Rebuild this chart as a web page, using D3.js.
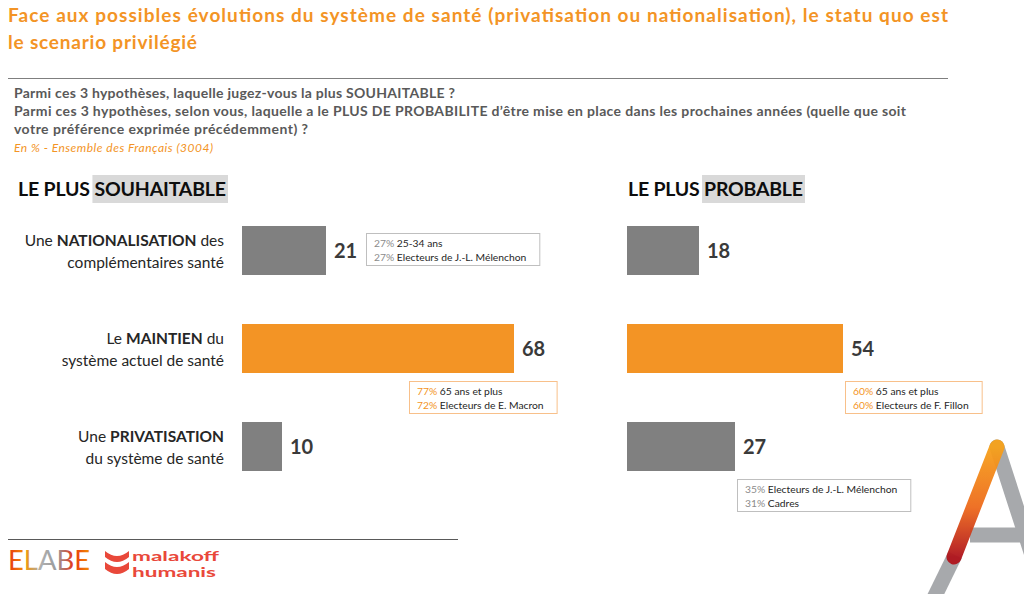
<!DOCTYPE html>
<html><head><meta charset="utf-8">
<script src="https://cdn.jsdelivr.net/npm/d3@7"></script>
<style>
body{margin:0;background:#fff;}
svg{display:block;font-family:Lato,"Open Sans",sans-serif;}
</style></head>
<body><svg id="c" width="1024" height="594"></svg>
<script>
// ---- data ----
const titleLines = ["Face aux possibles évolutions du système de santé (privatisation ou nationalisation), le statu quo est", "le scenario privilégié"];
const questionLines = ["Parmi ces 3 hypothèses, laquelle jugez-vous la plus SOUHAITABLE ?", "Parmi ces 3 hypothèses, selon vous, laquelle a le PLUS DE PROBABILITE d’être mise en place dans les prochaines années (quelle que soit", "votre préférence exprimée précédemment) ?"];
const baseNote = "En % - Ensemble des Français (3004)";
const categories = ["NATIONALISATION", "MAINTIEN", "PRIVATISATION"];
const catPre = ["Une ", "Le ", "Une "];
const catPost = [" des", " du", ""];
const catLine2 = ["complémentaires santé", "système actuel de santé", "du système de santé"];
const souhaitable = [21, 68, 10];
const probable = [18, 54, 27];
const highlight = [false, true, false];
const annotLeft = [[["27%", "25-34 ans"], ["27%", "Electeurs de J.-L. Mélenchon"]], [["77%", "65 ans et plus"], ["72%", "Electeurs de E. Macron"]], null];
const annotRight = [null, [["60%", "65 ans et plus"], ["60%", "Electeurs de F. Fillon"]], [["35%", "Electeurs de J.-L. Mélenchon"], ["31%", "Cadres"]]];

// ---- drawing ----
const ORANGE = "#F39425", GREY = "#808080";
const svg = d3.select("#c");
const fit = (sel, w) => sel.attr("textLength", w).attr("lengthAdjust", "spacing");

// title
const titleW = [940, 189];
svg.selectAll("text.title").data(titleLines).join("text")
  .attr("x", 8).attr("y", (d, i) => 22 + i * 27)
  .attr("fill", ORANGE).attr("font-size", 19).attr("font-weight", "bold")
  .text(d => d).each(function (d, i) { fit(d3.select(this), titleW[i]); });
svg.append("line").attr("x1", 8).attr("x2", 948).attr("y1", 78.5).attr("y2", 78.5)
  .attr("stroke", "#7f7f7f").attr("stroke-width", 1);
const qW = [441, 892, 294];
svg.selectAll("text.q").data(questionLines).join("text")
  .attr("x", 14).attr("y", (d, i) => 98 + i * 18)
  .attr("fill", "#595959").attr("font-size", 14).attr("font-weight", "bold")
  .text(d => d).each(function (d, i) { fit(d3.select(this), qW[i]); });
fit(svg.append("text").attr("x", 14).attr("y", 152).attr("fill", ORANGE)
  .attr("font-size", 12).attr("font-style", "italic").text(baseNote), 199);

const x = d3.scaleLinear().domain([0, 100]).range([0, 400]);
const y = d3.scaleBand().domain(categories).range([226, 471]).paddingInner(0.5).paddingOuter(0);

function heading(x0, plain, hl, endX) {
  const g = svg.append("g");
  const t = g.append("text").attr("x", x0).attr("y", 196).attr("font-size", 19.5)
    .attr("font-weight", "bold").attr("fill", "#0d0d0d").text(plain + " " + hl);
  fit(t, endX - x0);
  const sx = t.node().getStartPositionOfChar(plain.length + 1).x;
  g.insert("rect", "text").attr("x", sx - 2).attr("y", 175).attr("width", endX - sx + 4).attr("height", 28).attr("fill", "#D9D9D9");
}
heading(18, "LE PLUS", "SOUHAITABLE", 226);
heading(628, "LE PLUS", "PROBABLE", 803);

function panel(x0, values, annots, layout) {
  const g = svg.append("g").attr("transform", `translate(${x0},0)`);
  g.selectAll("rect.bar").data(values).join("rect")
    .attr("x", 0).attr("y", (d, i) => y(categories[i]))
    .attr("width", d => x(d)).attr("height", y.bandwidth())
    .attr("fill", (d, i) => highlight[i] ? ORANGE : GREY);
  g.selectAll("text.val").data(values).join("text")
    .attr("x", d => x(d) + 8).attr("y", (d, i) => y(categories[i]) + y.bandwidth() / 2 + 7)
    .attr("font-size", 20).attr("font-weight", "bold").attr("fill", "#3a3a3a")
    .text(d => d);
  annots.forEach((a, i) => {
    if (!a) return;
    const L = layout[i];
    const col = highlight[i] ? ORANGE : "#8c8c8c";
    const bx = x(values[i]) + L.dx, by = L.below ? y(categories[i]) + y.bandwidth() + 8 : y(categories[i]) + 7;
    const ag = g.append("g");
    const rect = ag.append("rect").attr("x", bx + 0.5).attr("y", by + 0.5).attr("height", 32)
      .attr("fill", "#fff").attr("stroke", highlight[i] ? "#F8C08A" : "#BFBFBF").attr("stroke-width", 1);
    let maxW = 0;
    a.forEach((ln, j) => {
      const t = ag.append("text").attr("x", bx + 8).attr("y", by + 13.5 + j * 14.5)
        .attr("font-size", 10.3).attr("fill", "#262626");
      t.append("tspan").attr("fill", col).text(ln[0] + " ");
      t.append("tspan").text(ln[1]);
      maxW = Math.max(maxW, t.node().getComputedTextLength());
    });
    rect.attr("width", maxW + 21);
  });
}
panel(242, souhaitable, annotLeft, [{dx: 40, below: false}, {dx: -105, below: true}, null]);
panel(627, probable, annotRight, [null, {dx: 2, below: true}, {dx: 2, below: true}]);

// category labels
const lab = svg.append("g");
categories.forEach((c, i) => {
  const cy = y(c) + y.bandwidth() / 2;
  const t1 = lab.append("text").attr("x", 224).attr("y", cy - 5).attr("text-anchor", "end")
    .attr("font-size", 15.5).attr("fill", "#262626");
  t1.append("tspan").text(catPre[i]);
  t1.append("tspan").attr("font-weight", "bold").text(c);
  t1.append("tspan").text(catPost[i]);
  lab.append("text").attr("x", 224).attr("y", cy + 17).attr("text-anchor", "end")
    .attr("font-size", 15.5).attr("fill", "#262626").text(catLine2[i]);
});

// footer
svg.append("line").attr("x1", 8).attr("x2", 458).attr("y1", 539.5).attr("y2", 539.5)
  .attr("stroke", "#595959").attr("stroke-width", 1);
const defs = svg.append("defs");
const ge = defs.append("linearGradient").attr("id", "elabe").attr("x1", 0).attr("x2", 1);
[["0%", "#E63312"], ["20%", "#F39200"], ["40%", "#B0B0B0"], ["60%", "#9a9a9a"], ["80%", "#E63312"], ["100%", "#F39200"]]
  .forEach(s => ge.append("stop").attr("offset", s[0]).attr("stop-color", s[1]));
svg.append("text").attr("x", 8).attr("y", 570).attr("font-size", 26).attr("font-weight", 400)
  .attr("font-family", "Lato").attr("textLength", 82).attr("lengthAdjust", "spacingAndGlyphs")
  .attr("fill", "url(#elabe)").text("ELABE");
const MH = "#E9483A";
svg.append("path").attr("d", "M105,551 Q117,561 129,551 L129,557 Q117,567 105,557 Z").attr("fill", MH);
svg.append("path").attr("d", "M105,562 Q117,572 129,562 L129,569 Q117,579 105,569 Z").attr("fill", MH);
svg.append("text").attr("x", 132).attr("y", 561).attr("font-size", 14).attr("font-weight", "bold")
  .attr("fill", MH).attr("textLength", 87).attr("lengthAdjust", "spacingAndGlyphs").text("malakoff");
svg.append("text").attr("x", 132).attr("y", 577).attr("font-size", 14).attr("font-weight", "bold")
  .attr("fill", MH).attr("textLength", 84).attr("lengthAdjust", "spacingAndGlyphs").text("humanis");

// corner A
const ga = defs.append("linearGradient").attr("id", "ag").attr("x1", 0).attr("y1", 0).attr("x2", 0).attr("y2", 1);
[["0%", "#F7A21B"], ["55%", "#EE6A1C"], ["100%", "#B0141C"]].forEach(s => ga.append("stop").attr("offset", s[0]).attr("stop-color", s[1]));
const A = svg.append("g");
A.append("line").attr("x1", 997).attr("y1", 447).attr("x2", 1040).attr("y2", 580).attr("stroke", "#A7A9AC").attr("stroke-width", 15).attr("stroke-linecap", "round");
A.append("line").attr("x1", 970).attr("y1", 535).attr("x2", 1030).attr("y2", 535).attr("stroke", "#A7A9AC").attr("stroke-width", 15);
A.append("line").attr("x1", 955).attr("y1", 555).attr("x2", 933).attr("y2", 600).attr("stroke", "#A7A9AC").attr("stroke-width", 15);
A.append("line").attr("x1", 997).attr("y1", 447).attr("x2", 954).attr("y2", 557).attr("stroke", "url(#ag)").attr("stroke-width", 15).attr("stroke-linecap", "round").attr("opacity", 0.95);
</script></body></html>
